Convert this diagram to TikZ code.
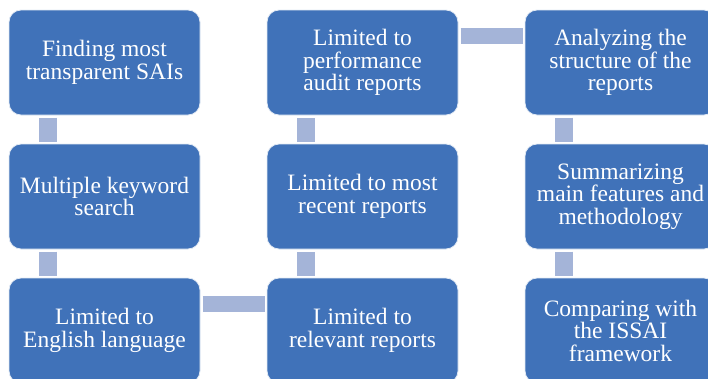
\documentclass[tikz,border=0pt]{standalone}
\usepackage{fontspec}
\setmainfont{Liberation Serif}
\usetikzlibrary{positioning}

\definecolor{stageblue}{RGB}{64,114,185}
\definecolor{linkblue}{RGB}{164,180,216}

\begin{document}
\begin{tikzpicture}[
    stage/.style={rectangle,
      rounded corners=12pt,
      draw=white!85!stageblue,
      line width=0.8pt,
      fill=stageblue,
      text=white,
      minimum width=191pt,
      minimum height=105pt,
      inner sep=0pt,
      outer sep=0pt,
      align=center,
      font=\fontsize{23.5}{22.5}\selectfont},
    link/.style={draw=linkblue,
      shorten <=2.5pt,
      shorten >=2.5pt}
  ]
  \useasboundingbox (0,0) rectangle (708pt,-378pt);
  % Add the steps
  \node[stage, anchor=north west] (find) at (9pt,-10pt) {Finding most\\transparent SAIs};
  \node[stage, below=29pt of find] (keyword) {Multiple keyword\\search};
  \node[stage, below=29pt of keyword] (english) {Limited to\\English language};
  \node[stage, right=67pt of english] (relevant) {Limited to\\relevant reports};
  \node[stage, above=29pt of relevant] (recent) {Limited to most\\recent reports};
  \node[stage, above=29pt of recent] (audit) {Limited to\\performance\\audit reports};
  \node[stage, right=67pt of audit] (structure) {Analyzing the\\structure of the\\reports};
  \node[stage, below=29pt of structure] (summary) {Summarizing\\main features and\\methodology};
  \node[stage, below=29pt of summary] (issai) {Comparing with\\the ISSAI\\framework};
  % Connect the steps
  \draw[link, line width=18pt] ([xshift=39pt]find.south west) -- ([xshift=39pt]keyword.north west);
  \draw[link, line width=18pt] ([xshift=39pt]keyword.south west) -- ([xshift=39pt]english.north west);
  \draw[link, line width=16pt] ([yshift=-26pt]english.north east) -- ([yshift=-26pt]relevant.north west);
  \draw[link, line width=18pt] ([xshift=39pt]relevant.north west) -- ([xshift=39pt]recent.south west);
  \draw[link, line width=18pt] ([xshift=39pt]recent.north west) -- ([xshift=39pt]audit.south west);
  \draw[link, line width=16pt] ([yshift=-26pt]audit.north east) -- ([yshift=-26pt]structure.north west);
  \draw[link, line width=18pt] ([xshift=39pt]structure.south west) -- ([xshift=39pt]summary.north west);
  \draw[link, line width=18pt] ([xshift=39pt]summary.south west) -- ([xshift=39pt]issai.north west);
\end{tikzpicture}
\end{document}
